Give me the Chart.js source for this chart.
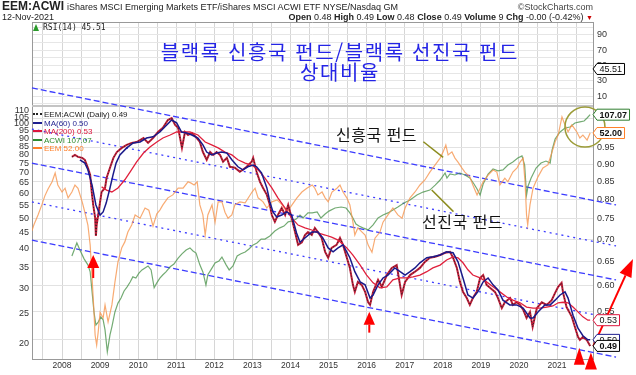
<!DOCTYPE html>
<html lang="ko"><head><meta charset="utf-8">
<title>EEM:ACWI</title>
<script src="https://cdn.jsdelivr.net/npm/chart.js@4.4.1/dist/chart.umd.min.js"></script>
<style>
html,body{margin:0;padding:0;background:#fff;}
#wrap{position:relative;width:636px;height:375px;overflow:hidden;font-family:"Liberation Sans",Arial,sans-serif;color:#222;}
#c{position:absolute;left:0;top:0;}
.t{position:absolute;white-space:nowrap;line-height:10px;}
.hd{font-size:9px;}
.lg{position:absolute;left:33px;font-size:8px;line-height:8px;white-space:nowrap;}
.sw{display:inline-block;width:9px;height:0;border-top:2px solid;vertical-align:middle;margin-right:2px;position:relative;top:-1px;}
.kr{position:absolute;white-space:nowrap;font-family:"Noto Sans CJK KR",sans-serif;line-height:1;}
</style></head><body>
<div id="wrap">
<canvas id="c" width="636" height="375"></canvas>
<div class="t" style="left:2px;top:0px;font-size:12px;font-weight:bold;line-height:13px;">EEM:ACWI</div>
<div class="t hd" style="left:67px;top:2px;">iShares MSCI Emerging Markets ETF/iShares MSCI ACWI ETF</div>
<div class="t hd" style="left:323px;top:2px;">NYSE/Nasdaq GM</div>
<div class="t hd" style="right:43px;top:2px;color:#444;">©StockCharts.com</div>
<div class="t hd" style="left:2px;top:12px;">12-Nov-2021</div>
<div class="t hd" style="right:43px;top:12px;"><b>Open</b> 0.48 <b>High</b> 0.49 <b>Low</b> 0.48 <b>Close</b> 0.49 <b>Volume</b> 9 <b>Chg</b> -0.00 (-0.42%) <span style="color:#c00;font-size:7px;">▼</span></div>
<span style="position:absolute;left:33px;top:24px;width:0;height:0;border-left:3.5px solid transparent;border-right:3.5px solid transparent;border-bottom:7px solid #2a9a2a;"></span>
<div class="t" style="left:43px;top:23px;font-family:'DejaVu Sans Mono',monospace;font-size:8px;">RSI(14) 45.51</div>

<div class="lg" style="top:111px;color:#222;"><span class="sw" style="border-top:2px dotted #222;"></span>EEM:ACWI (Daily) 0.49</div>
<div class="lg" style="top:120px;color:#1f1f8f;"><span class="sw" style="border-color:#1f1f8f;"></span>MA(60) 0.50</div>
<div class="lg" style="top:128px;color:#dc143c;"><span class="sw" style="border-color:#dc143c;"></span>MA(200) 0.53</div>
<div class="lg" style="top:137px;color:#2e8b2e;"><span class="sw" style="border-color:#2e8b2e;"></span>ACWI 107.07</div>
<div class="lg" style="top:145px;color:#ff7f27;"><span class="sw" style="border-color:#ff7f27;"></span>EEM 52.00</div>

<div class="kr" style="left:0;width:680px;text-align:center;top:42px;font-size:20px;color:#2424e6;letter-spacing:1.6px;">블랙록 신흥국 펀드/블랙록 선진국 펀드</div>
<div class="kr" style="left:0;width:680px;text-align:center;top:62px;font-size:20px;color:#2424e6;letter-spacing:1.6px;">상대비율</div>
<div class="kr" style="left:336px;top:126px;font-size:16px;color:#111;letter-spacing:0.5px;">신흥국 펀드</div>
<div class="kr" style="left:422px;top:213px;font-size:16px;color:#111;letter-spacing:0.5px;">선진국 펀드</div>
</div>
<script>
// ---- data ----
const yearTicks = [2008,2009,2010,2011,2012,2013,2014,2015,2016,2017,2018,2019,2020,2021];
const priceTicks = [20,25,30,35,40,45,50,55,60,65,70,75,80,85,90,95,100,105,110];
const ratioTicks = [0.50,0.55,0.60,0.65,0.70,0.75,0.80,0.85,0.90,0.95];
const ratioUnlabeled = [1.00,1.05];
const rsiTicks = [10,30,50,70,90];
const rsiGrid = [0,10,20,30,40,50,60,70,80,90,100];
const rsiLast = 45.51;

const dateRange = [2007.212, 2021.945];
const ratioRange = [0.469, 1.093];
const priceRange = [17.85, 114.1];
const eemRange = [14.71, 96.7];
const rsiRange = [-3, 107];

const ratioDaily = [[2008.26,0.922],[2008.34,0.928],[2008.42,0.922],[2008.53,0.919],[2008.60,0.913],[2008.68,0.889],[2008.74,0.868],[2008.78,0.820],[2008.82,0.785],[2008.87,0.752],[2008.89,0.708],[2008.91,0.734],[2008.95,0.759],[2009.00,0.793],[2009.04,0.820],[2009.13,0.831],[2009.17,0.859],[2009.26,0.889],[2009.35,0.919],[2009.44,0.937],[2009.57,0.950],[2009.70,0.960],[2009.83,0.966],[2009.96,0.969],[2010.14,0.982],[2010.26,0.966],[2010.39,0.982],[2010.52,1.002],[2010.65,1.016],[2010.78,1.043],[2010.88,1.050],[2010.97,1.026],[2011.05,1.016],[2011.15,0.950],[2011.23,1.002],[2011.31,0.992],[2011.41,0.999],[2011.54,0.982],[2011.62,0.969],[2011.70,0.937],[2011.80,0.913],[2011.89,0.937],[2011.97,0.928],[2012.06,0.937],[2012.15,0.928],[2012.23,0.907],[2012.33,0.919],[2012.41,0.892],[2012.54,0.889],[2012.67,0.877],[2012.75,0.883],[2012.85,0.892],[2012.98,0.907],[2013.02,0.919],[2013.11,0.877],[2013.20,0.848],[2013.28,0.831],[2013.38,0.812],[2013.46,0.785],[2013.51,0.759],[2013.59,0.742],[2013.67,0.759],[2013.77,0.777],[2013.86,0.759],[2013.94,0.785],[2014.03,0.752],[2014.12,0.717],[2014.20,0.687],[2014.30,0.693],[2014.38,0.710],[2014.46,0.717],[2014.56,0.710],[2014.64,0.727],[2014.72,0.717],[2014.82,0.703],[2014.91,0.671],[2014.99,0.658],[2015.08,0.680],[2015.21,0.687],[2015.30,0.703],[2015.38,0.687],[2015.48,0.658],[2015.56,0.636],[2015.64,0.601],[2015.69,0.587],[2015.77,0.607],[2015.87,0.601],[2015.96,0.587],[2016.04,0.567],[2016.09,0.562],[2016.17,0.587],[2016.30,0.611],[2016.40,0.597],[2016.53,0.621],[2016.66,0.636],[2016.79,0.642],[2016.92,0.581],[2017.01,0.607],[2017.14,0.621],[2017.27,0.628],[2017.40,0.636],[2017.53,0.649],[2017.66,0.658],[2017.80,0.660],[2017.93,0.664],[2018.06,0.669],[2018.19,0.671],[2018.27,0.658],[2018.37,0.636],[2018.45,0.607],[2018.53,0.587],[2018.63,0.575],[2018.71,0.562],[2018.79,0.575],[2018.89,0.587],[2018.98,0.615],[2019.06,0.621],[2019.15,0.601],[2019.24,0.595],[2019.37,0.587],[2019.45,0.575],[2019.55,0.556],[2019.63,0.567],[2019.77,0.575],[2019.84,0.562],[2019.94,0.567],[2020.03,0.562],[2020.11,0.553],[2020.20,0.538],[2020.29,0.549],[2020.36,0.522],[2020.47,0.556],[2020.60,0.567],[2020.73,0.562],[2020.86,0.571],[2020.95,0.585],[2021.03,0.597],[2021.12,0.605],[2021.16,0.585],[2021.25,0.558],[2021.39,0.540],[2021.47,0.522],[2021.55,0.505],[2021.60,0.500],[2021.68,0.505],[2021.78,0.500],[2021.87,0.490]];

const ma60 = [[2008.47,0.913],[2008.60,0.903],[2008.68,0.883],[2008.79,0.839],[2008.89,0.785],[2009.00,0.759],[2009.08,0.767],[2009.16,0.790],[2009.26,0.831],[2009.34,0.868],[2009.42,0.903],[2009.52,0.928],[2009.70,0.950],[2009.87,0.966],[2010.05,0.969],[2010.22,0.982],[2010.39,0.986],[2010.57,1.002],[2010.75,1.026],[2010.88,1.043],[2011.01,1.033],[2011.14,1.002],[2011.27,0.999],[2011.41,0.992],[2011.57,0.982],[2011.70,0.960],[2011.80,0.937],[2011.93,0.928],[2012.06,0.934],[2012.19,0.937],[2012.33,0.934],[2012.46,0.913],[2012.62,0.892],[2012.75,0.883],[2012.88,0.892],[2013.02,0.897],[2013.11,0.892],[2013.24,0.874],[2013.38,0.831],[2013.46,0.793],[2013.54,0.767],[2013.64,0.754],[2013.77,0.759],[2013.90,0.767],[2014.03,0.759],[2014.16,0.715],[2014.25,0.693],[2014.38,0.703],[2014.56,0.717],[2014.72,0.717],[2014.85,0.703],[2014.99,0.680],[2015.12,0.671],[2015.25,0.680],[2015.38,0.687],[2015.56,0.658],[2015.69,0.628],[2015.83,0.607],[2015.96,0.601],[2016.09,0.575],[2016.17,0.581],[2016.30,0.601],[2016.43,0.615],[2016.56,0.621],[2016.74,0.636],[2016.88,0.628],[2017.01,0.621],[2017.14,0.628],[2017.27,0.636],[2017.40,0.647],[2017.58,0.658],[2017.74,0.660],[2017.93,0.664],[2018.10,0.671],[2018.27,0.669],[2018.40,0.649],[2018.53,0.615],[2018.66,0.581],[2018.79,0.575],[2018.92,0.587],[2019.06,0.607],[2019.19,0.615],[2019.32,0.601],[2019.45,0.591],[2019.58,0.571],[2019.76,0.562],[2019.94,0.562],[2020.11,0.556],[2020.29,0.538],[2020.37,0.538],[2020.50,0.549],[2020.68,0.562],[2020.82,0.562],[2020.95,0.571],[2021.08,0.581],[2021.21,0.587],[2021.29,0.575],[2021.42,0.543],[2021.55,0.520],[2021.68,0.507],[2021.81,0.500],[2021.87,0.500]];

const ma200 = [[2009.04,0.834],[2009.17,0.825],[2009.31,0.820],[2009.47,0.831],[2009.65,0.854],[2009.79,0.877],[2009.96,0.907],[2010.14,0.934],[2010.31,0.953],[2010.49,0.969],[2010.65,0.982],[2010.84,0.992],[2011.01,1.002],[2011.18,1.002],[2011.36,1.002],[2011.57,0.992],[2011.76,0.969],[2011.93,0.960],[2012.10,0.950],[2012.28,0.937],[2012.46,0.928],[2012.62,0.913],[2012.81,0.903],[2012.98,0.897],[2013.15,0.883],[2013.33,0.859],[2013.51,0.831],[2013.67,0.804],[2013.86,0.777],[2014.03,0.752],[2014.20,0.734],[2014.38,0.727],[2014.56,0.722],[2014.72,0.715],[2014.91,0.710],[2015.08,0.705],[2015.25,0.698],[2015.48,0.680],[2015.64,0.664],[2015.83,0.642],[2016.00,0.621],[2016.17,0.605],[2016.35,0.595],[2016.53,0.597],[2016.69,0.611],[2016.88,0.615],[2017.05,0.615],[2017.22,0.617],[2017.40,0.621],[2017.58,0.628],[2017.74,0.636],[2017.93,0.642],[2018.10,0.653],[2018.27,0.660],[2018.40,0.658],[2018.53,0.647],[2018.66,0.632],[2018.79,0.621],[2018.98,0.615],[2019.15,0.607],[2019.32,0.597],[2019.50,0.587],[2019.68,0.577],[2019.84,0.571],[2020.03,0.566],[2020.20,0.558],[2020.37,0.556],[2020.55,0.556],[2020.73,0.558],[2020.89,0.560],[2021.03,0.566],[2021.16,0.567],[2021.29,0.566],[2021.42,0.558],[2021.55,0.549],[2021.68,0.540],[2021.81,0.534],[2021.87,0.534]];

const acwi = [[2008.26,38.0],[2008.39,41.8],[2008.47,39.7],[2008.58,37.2],[2008.68,35.6],[2008.74,33.8],[2008.79,29.2],[2008.84,25.2],[2008.89,22.9],[2008.95,23.4],[2009.02,24.3],[2009.08,23.8],[2009.13,22.1],[2009.19,18.8],[2009.26,21.3],[2009.31,22.6],[2009.39,25.2],[2009.47,26.9],[2009.55,27.9],[2009.63,29.4],[2009.71,30.3],[2009.79,31.4],[2009.86,32.6],[2009.94,32.3],[2010.02,33.5],[2010.10,34.3],[2010.18,34.8],[2010.26,35.3],[2010.34,34.3],[2010.42,30.1],[2010.49,31.2],[2010.57,32.3],[2010.65,33.1],[2010.73,33.8],[2010.84,35.1],[2010.94,35.8],[2011.05,37.4],[2011.15,38.6],[2011.26,39.7],[2011.36,40.3],[2011.44,39.4],[2011.52,38.8],[2011.62,35.6],[2011.70,33.8],[2011.78,30.7],[2011.83,33.1],[2011.91,34.3],[2012.02,36.1],[2012.12,36.6],[2012.20,37.7],[2012.31,35.6],[2012.39,34.3],[2012.49,35.3],[2012.60,38.0],[2012.70,38.6],[2012.81,39.1],[2012.91,40.0],[2013.02,41.2],[2013.12,41.8],[2013.23,43.0],[2013.33,43.0],[2013.46,44.0],[2013.59,45.6],[2013.72,46.7],[2013.83,47.3],[2013.94,48.8],[2014.04,49.1],[2014.15,49.8],[2014.25,51.3],[2014.33,50.2],[2014.46,52.1],[2014.57,52.1],[2014.70,52.5],[2014.80,50.2],[2014.91,51.7],[2015.01,52.8],[2015.17,54.0],[2015.33,54.4],[2015.46,54.0],[2015.56,52.1],[2015.64,50.2],[2015.72,48.0],[2015.80,47.3],[2015.90,46.7],[2016.04,46.0],[2016.17,47.7],[2016.30,50.2],[2016.43,51.3],[2016.56,52.1],[2016.69,53.2],[2016.82,54.4],[2016.98,56.0],[2017.14,57.3],[2017.32,59.4],[2017.48,60.7],[2017.66,61.6],[2017.80,63.9],[2017.93,66.3],[2018.06,69.8],[2018.11,67.3],[2018.19,69.3],[2018.32,68.8],[2018.45,69.8],[2018.58,68.8],[2018.71,67.3],[2018.82,64.4],[2018.90,62.1],[2018.98,59.4],[2019.06,64.4],[2019.19,69.3],[2019.32,71.9],[2019.45,70.9],[2019.58,71.4],[2019.71,74.0],[2019.84,75.7],[2019.97,77.9],[2020.08,79.1],[2020.15,74.0],[2020.20,59.4],[2020.24,63.5],[2020.32,67.3],[2020.45,72.4],[2020.58,75.1],[2020.71,76.2],[2020.82,75.1],[2020.87,82.6],[2020.95,89.6],[2021.08,94.3],[2021.21,97.1],[2021.34,97.8],[2021.47,100.7],[2021.60,101.5],[2021.71,102.2],[2021.79,104.5],[2021.87,107.07]];

const eem = [[2007.21,30.1],[2007.26,31.1],[2007.37,32.9],[2007.47,34.8],[2007.55,36.6],[2007.63,38.0],[2007.74,39.6],[2007.82,41.6],[2007.89,38.9],[2008.00,37.4],[2008.08,38.2],[2008.16,36.2],[2008.26,37.4],[2008.34,38.9],[2008.42,38.2],[2008.53,35.4],[2008.60,33.4],[2008.68,31.1],[2008.74,27.8],[2008.79,23.1],[2008.83,19.9],[2008.87,16.8],[2008.91,15.9],[2008.95,17.1],[2009.00,19.1],[2009.08,18.5],[2009.13,19.9],[2009.21,18.1],[2009.31,19.9],[2009.39,22.6],[2009.47,25.3],[2009.57,27.4],[2009.65,28.3],[2009.73,29.9],[2009.83,31.1],[2009.92,32.9],[2010.05,32.3],[2010.18,34.2],[2010.28,33.8],[2010.39,30.9],[2010.49,33.1],[2010.57,33.8],[2010.65,34.8],[2010.78,36.2],[2010.91,36.8],[2011.05,38.2],[2011.18,38.2],[2011.31,39.6],[2011.39,39.3],[2011.47,38.9],[2011.55,39.6],[2011.62,34.8],[2011.70,32.9],[2011.76,29.4],[2011.83,32.9],[2011.94,34.8],[2012.02,31.6],[2012.10,35.4],[2012.20,35.4],[2012.28,33.4],[2012.36,32.3],[2012.46,32.9],[2012.54,34.8],[2012.67,35.4],[2012.81,35.2],[2012.99,37.4],[2013.07,38.2],[2013.15,36.2],[2013.28,35.4],[2013.38,34.2],[2013.51,35.4],[2013.65,35.8],[2013.78,34.8],[2013.91,33.4],[2014.04,34.8],[2014.17,36.2],[2014.30,37.4],[2014.43,38.2],[2014.57,38.9],[2014.64,38.2],[2014.72,36.8],[2014.83,37.4],[2014.91,36.2],[2014.99,35.4],[2015.09,37.4],[2015.22,38.2],[2015.30,38.9],[2015.38,37.4],[2015.48,36.2],[2015.56,34.8],[2015.64,31.6],[2015.69,29.4],[2015.77,30.6],[2015.88,29.9],[2015.96,29.4],[2016.04,27.8],[2016.14,26.7],[2016.22,28.9],[2016.35,29.9],[2016.43,31.6],[2016.56,32.9],[2016.69,34.2],[2016.82,32.9],[2016.93,32.3],[2017.01,34.2],[2017.14,36.2],[2017.27,37.4],[2017.40,38.9],[2017.53,40.0],[2017.66,41.8],[2017.80,43.5],[2017.93,45.2],[2018.01,46.8],[2018.08,48.6],[2018.14,46.0],[2018.24,46.8],[2018.32,45.2],[2018.40,44.2],[2018.50,42.8],[2018.58,41.8],[2018.71,40.7],[2018.79,38.9],[2018.90,36.8],[2018.98,38.2],[2019.06,39.6],[2019.19,41.1],[2019.32,42.3],[2019.42,41.8],[2019.50,38.9],[2019.63,40.4],[2019.71,39.6],[2019.84,41.8],[2019.95,42.8],[2020.03,44.2],[2020.11,45.2],[2020.16,39.6],[2020.20,32.9],[2020.23,31.1],[2020.29,34.8],[2020.37,38.2],[2020.50,40.7],[2020.63,42.8],[2020.76,43.5],[2020.87,46.8],[2020.95,49.5],[2021.03,51.4],[2021.13,56.9],[2021.21,54.4],[2021.29,52.3],[2021.39,54.4],[2021.52,52.3],[2021.60,50.6],[2021.68,51.4],[2021.79,50.0],[2021.87,52.0]];

// trend channel (ratio units) drawn by the author
const channelYears = [2007.21, 2022.55];
const channelA = [1.161, 0.785];
const channelB = [1.012, 0.6845];
const channelC = [0.903, 0.611];
const channelD = [0.793, 0.536];
const channelE = [0.698, 0.472];

// author annotations in data units
const arrowTips = [[2008.82, 0.664], [2016.07, 0.5495], [2021.585, 0.487], [2021.89, 0.4794]];
const breakoutArrow = [[2021.953, 0.4896], [2022.995, 0.6554]];
const circleMark = [2021.734, 97.8];
const calloutEM = [[2017.49, 87.8], [2018.01, 78.3]];
const calloutDM = [[2017.71, 61.6], [2018.28, 52.6]];

// ---- styles ----
const arrowStyle = [{h:13, hw:6, shaft:10}, {h:13, hw:5.7, shaft:8}, {h:17, hw:5.5, shaft:0}, {h:17, hw:6, shaft:0}];
const FONT = '"Liberation Sans", Arial, sans-serif';

Chart.defaults.font.family = FONT;
Chart.defaults.color = '#333';

const last = a => a[a.length - 1][1];
const halfYearGrid = yearTicks.flatMap(y => [y - 0.5, y]).concat([yearTicks[yearTicks.length - 1] + 0.5]);
const toLine = (ys) => [[channelYears[0], ys[0]], [channelYears[1], ys[1]]];
const chanDS = (ys, dash) => ({data: toLine(ys), yAxisID: 'yRatio', borderColor: '#3c3cff', borderWidth: 1.3, borderDash: dash, clip: false, order: 10});

function valueBox(ctx, xTip, y, text, color, bold) {
  ctx.font = (bold ? 'bold ' : '') + '9px ' + FONT;
  const w = ctx.measureText(text).width + 5, h = 11;
  ctx.beginPath();
  ctx.moveTo(xTip, y);
  ctx.lineTo(xTip + 4, y - h / 2); ctx.lineTo(xTip + 4 + w, y - h / 2);
  ctx.lineTo(xTip + 4 + w, y + h / 2); ctx.lineTo(xTip + 4, y + h / 2);
  ctx.closePath();
  ctx.fillStyle = '#fff'; ctx.fill();
  ctx.strokeStyle = color; ctx.lineWidth = 1; ctx.stroke();
  ctx.fillStyle = '#111'; ctx.textBaseline = 'middle'; ctx.textAlign = 'left';
  ctx.fillText(text, xTip + 6.5, y + 0.5);
}

const framePlugin = {
  id: 'frame',
  beforeDatasetsDraw(chart) {
    const {ctx, chartArea, scales} = chart;
    ctx.save();
    ctx.strokeStyle = '#999'; ctx.lineWidth = 1;
    ctx.beginPath(); ctx.moveTo(chartArea.left, chartArea.top + 0.5); ctx.lineTo(chartArea.right, chartArea.top + 0.5); ctx.stroke();
    ctx.fillStyle = '#c4c4c4';
    ctx.fillRect(chartArea.left, scales.yRSI.bottom - 1, chartArea.right - chartArea.left, 2);
    ctx.restore();
  }
};

const annotPlugin = {
  id: 'annot',
  afterDraw(chart) {
    const {ctx, scales} = chart;
    const X = scales.x, yR = scales.yRatio, yP = scales.yPrice, yE = scales.yEEM, yS = scales.yRSI;
    ctx.save();
    ctx.strokeStyle = '#8c8c1e'; ctx.lineWidth = 1.5;
    [calloutEM, calloutDM].forEach(c => {
      ctx.beginPath();
      ctx.moveTo(X.getPixelForValue(c[0][0]), yP.getPixelForValue(c[0][1]));
      ctx.lineTo(X.getPixelForValue(c[1][0]), yP.getPixelForValue(c[1][1]));
      ctx.stroke();
    });
    ctx.strokeStyle = '#9c9c38'; ctx.lineWidth = 1.5;
    ctx.beginPath();
    ctx.arc(X.getPixelForValue(circleMark[0]), yP.getPixelForValue(circleMark[1]), 20, 0, Math.PI * 2);
    ctx.stroke();
    ctx.fillStyle = '#ff0000';
    arrowTips.forEach((p, i) => {
      const s = arrowStyle[i];
      const x = X.getPixelForValue(p[0]), y = yR.getPixelForValue(p[1]);
      ctx.beginPath(); ctx.moveTo(x, y); ctx.lineTo(x - s.hw, y + s.h); ctx.lineTo(x + s.hw, y + s.h); ctx.closePath(); ctx.fill();
      if (s.shaft) ctx.fillRect(x - 1, y + s.h, 2, s.shaft);
    });
    const x0 = X.getPixelForValue(breakoutArrow[0][0]), y0 = yR.getPixelForValue(breakoutArrow[0][1]);
    const x1 = X.getPixelForValue(breakoutArrow[1][0]), y1 = yR.getPixelForValue(breakoutArrow[1][1]);
    const L = Math.hypot(x1 - x0, y1 - y0), ux = (x1 - x0) / L, uy = (y1 - y0) / L;
    const bx = x1 - ux * 18, by = y1 - uy * 18;
    ctx.strokeStyle = '#ff0000'; ctx.lineWidth = 2;
    ctx.beginPath(); ctx.moveTo(x0, y0); ctx.lineTo(bx, by); ctx.stroke();
    ctx.beginPath(); ctx.moveTo(x1, y1); ctx.lineTo(bx - uy * 6.5, by + ux * 6.5); ctx.lineTo(bx + uy * 6.5, by - ux * 6.5); ctx.closePath(); ctx.fill();
    const xr = chart.chartArea.right;
    valueBox(ctx, xr, yE.getPixelForValue(last(eem)), last(eem).toFixed(2), '#ff7f27', true);
    valueBox(ctx, xr, yP.getPixelForValue(last(acwi)), last(acwi).toFixed(2), '#2e7d2e', true);
    valueBox(ctx, xr, yR.getPixelForValue(last(ma200)), last(ma200).toFixed(2), '#dc143c', false);
    valueBox(ctx, xr, yR.getPixelForValue(last(ma60)), last(ma60).toFixed(2), '#1f1f8f', false);
    valueBox(ctx, xr, yR.getPixelForValue(last(ratioDaily)), last(ratioDaily).toFixed(2), '#000', true);
    valueBox(ctx, xr, yS.getPixelForValue(rsiLast), rsiLast.toFixed(2), '#000', false);
    ctx.restore();
  }
};

const isIn = (arr, v) => arr.some(t => Math.abs(t - v) < 1e-9);
const tickFont = {size: 9, family: FONT};

new Chart(document.getElementById('c'), {
  type: 'line',
  data: {
    datasets: [
      chanDS(channelA, [6, 3]), chanDS(channelB, [2, 4]), chanDS(channelC, [6, 3]), chanDS(channelD, [2, 4]), chanDS(channelE, [6, 3]),
      {label: 'ACWI', data: acwi, yAxisID: 'yPrice', borderColor: 'rgba(80,150,80,0.8)', borderWidth: 1.2, order: 8},
      {label: 'EEM', data: eem, yAxisID: 'yEEM', borderColor: 'rgba(246,150,80,0.8)', borderWidth: 1.2, order: 7},
      {label: 'EEM:ACWI', data: ratioDaily, yAxisID: 'yRatio', borderColor: '#c41e3a', borderWidth: 2, order: 4},
      {label: 'EEM:ACWI close', data: ratioDaily, yAxisID: 'yRatio', borderColor: '#222', borderWidth: 1, borderDash: [1, 2], order: 3},
      {label: 'MA(200)', data: ma200, yAxisID: 'yRatio', borderColor: '#e0203c', borderWidth: 1.3, order: 2},
      {label: 'MA(60)', data: ma60, yAxisID: 'yRatio', borderColor: '#1a1a8a', borderWidth: 1.5, order: 1}
    ]
  },
  options: {
    responsive: false,
    devicePixelRatio: 1,
    animation: false,
    events: [],
    layout: {padding: {top: 22, left: 0, right: 0, bottom: 0}},
    elements: {point: {radius: 0}, line: {tension: 0}},
    plugins: {legend: {display: false}, tooltip: {enabled: false}},
    scales: {
      x: {
        type: 'linear', position: 'bottom', min: dateRange[0], max: dateRange[1],
        afterBuildTicks: s => { s.ticks = halfYearGrid.map(v => ({value: v})); },
        ticks: {autoSkip: false, maxRotation: 0, padding: 2, font: {size: 8.5, family: FONT}, color: '#333',
          callback: v => Number.isInteger(v) ? String(v) : ''},
        grid: {color: '#d6d6d6', drawTicks: false},
        border: {color: '#999'},
        afterFit: s => { s.height = 16; }
      },
      yRSI: {
        type: 'linear', position: 'right', stack: 'r', stackWeight: 84, weight: 0, min: rsiRange[0], max: rsiRange[1],
        afterBuildTicks: s => { s.ticks = rsiGrid.map(v => ({value: v})); },
        ticks: {autoSkip: false, padding: 4, font: tickFont, color: '#333', callback: v => isIn(rsiTicks, v) ? String(v) : ''},
        grid: {color: '#e6e6e6', drawTicks: false},
        border: {color: '#999'},
        afterFit: s => { s.width = 43; }
      },
      yRatio: {
        type: 'logarithmic', position: 'right', stack: 'r', stackWeight: 253, weight: 1, min: ratioRange[0], max: ratioRange[1],
        afterBuildTicks: s => { s.ticks = ratioTicks.concat(ratioUnlabeled).map(v => ({value: v})); },
        ticks: {autoSkip: false, padding: 4, font: tickFont, color: '#333', callback: v => isIn(ratioTicks, v) ? v.toFixed(2) : ''},
        grid: {color: '#e2e2e2', drawTicks: false},
        border: {color: '#999'},
        afterFit: s => { s.width = 43; }
      },
      yLeftTop: {
        type: 'linear', position: 'left', stack: 'l', stackWeight: 84, weight: 2, min: 0, max: 1,
        ticks: {display: false}, grid: {display: false}, border: {color: '#999'},
        afterFit: s => { s.width = 32; }
      },
      yPrice: {
        type: 'logarithmic', position: 'left', stack: 'l', stackWeight: 253, weight: 1, min: priceRange[0], max: priceRange[1],
        afterBuildTicks: s => { s.ticks = priceTicks.map(v => ({value: v})); },
        ticks: {autoSkip: false, padding: 3, font: tickFont, color: '#333', callback: v => String(v)},
        grid: {display: false, drawTicks: false},
        border: {color: '#999'},
        afterFit: s => { s.width = 32; }
      },
      yEEM: {
        type: 'logarithmic', position: 'left', display: false, weight: 0, min: eemRange[0], max: eemRange[1]
      }
    }
  },
  plugins: [framePlugin, annotPlugin]
});
</script>
</body></html>
